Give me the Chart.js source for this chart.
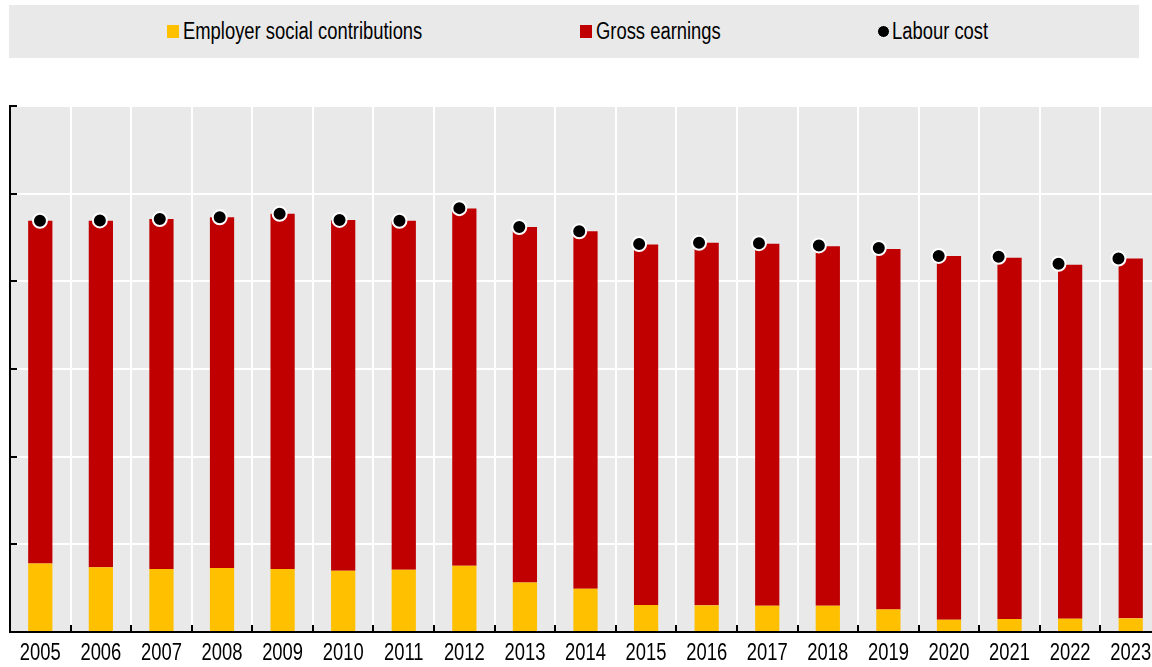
<!doctype html>
<html>
  <head>
    <meta charset="UTF-8">
    <script src="https://cdn.jsdelivr.net/npm/chart.js"></script>
    <style>
      body { margin: 0; width: 1152px; height: 667px; overflow: hidden; background: #fff;
             font-family: 'Liberation Sans', Arial, sans-serif; }
      #legend { position: absolute; left: 9px; top: 5px; width: 1130px; height: 53px; background: #e9e9e9; }
      .item { position: absolute; top: 0; height: 53px; display: flex; align-items: center; color: #000; }
      .txt { font-size: 23px; display: inline-block; transform: scaleX(0.8); transform-origin: left center; white-space: nowrap; }
      .sq { width: 12px; height: 13px; margin-right: 4px; }
      .dot { width: 11px; height: 11px; border-radius: 50%; background: #000; border: 1.5px solid #fff; margin-right: 2px; }
      #wrap { position: absolute; left: 0; top: 0; width: 1170px; height: 667px; }
    </style>
  </head>
  <body>
    <div id="legend">
      <div class="item" style="left:158px"><span class="sq" style="background:#ffc000"></span><span class="txt">Employer social contributions</span></div>
      <div class="item" style="left:571px"><span class="sq" style="background:#c00000"></span><span class="txt">Gross earnings</span></div>
      <div class="item" style="left:868px"><span class="dot"></span><span class="txt">Labour cost</span></div>
    </div>
    <div id="wrap"><canvas id="chart"></canvas></div>
    <script>
      const years = ['2005', '2006', '2007', '2008', '2009', '2010', '2011', '2012', '2013', '2014',
                     '2015', '2016', '2017', '2018', '2019', '2020', '2021', '2022', '2023'];
      const employerContrib = [7.8, 7.4, 7.2, 7.3, 7.2, 7.0, 7.1, 7.55, 5.66, 4.93,
                               3.08, 3.04, 3.0, 3.0, 2.58, 1.4, 1.48, 1.52, 1.56];
      const grossEarnings = [39.1, 39.5, 39.9, 40.0, 40.5, 40.0, 39.8, 40.75, 40.54, 40.77,
                             41.12, 41.36, 41.3, 41.0, 41.12, 41.5, 41.22, 40.38, 41.04];
      const labourCost = [46.9, 46.95, 47.1, 47.3, 47.7, 47.0, 46.9, 48.35, 46.2, 45.7,
                          44.25, 44.4, 44.35, 44.1, 43.8, 42.9, 42.8, 42.0, 42.6];

      const plotBg = {
        id: 'plotBg',
        beforeDraw(chart) {
          const { ctx, chartArea: a } = chart;
          ctx.save();
          ctx.fillStyle = '#e9e9e9';
          ctx.fillRect(a.left, a.top, a.right - a.left, a.bottom - a.top);
          ctx.restore();
        },
        afterDatasetsDraw(chart) {
          // inward tick marks on both axes
          const { ctx, chartArea: a, scales } = chart;
          ctx.save();
          ctx.strokeStyle = '#000';
          ctx.lineWidth = 2;
          ctx.beginPath();
          scales.y.ticks.forEach((t, i) => {
            const y = Math.round(scales.y.getPixelForTick(i));
            ctx.moveTo(a.left, y);
            ctx.lineTo(a.left + 7, y);
          });
          for (let i = 1; i < years.length; i++) {
            const x = Math.round((scales.x.getPixelForValue(i - 1) + scales.x.getPixelForValue(i)) / 2);
            ctx.moveTo(x, a.bottom);
            ctx.lineTo(x, a.bottom - 7);
          }
          ctx.stroke();
          // narrow year labels
          ctx.fillStyle = '#000';
          ctx.font = "23px 'Liberation Sans', Arial, sans-serif";
          ctx.textAlign = 'center';
          ctx.textBaseline = 'middle';
          years.forEach((lab, i) => {
            ctx.save();
            ctx.translate(scales.x.getPixelForValue(i), a.bottom + 22);
            ctx.scale(0.8, 1);
            ctx.fillText(lab, 0, 0);
            ctx.restore();
          });
          ctx.restore();
        }
      };

      new Chart(document.getElementById('chart'), {
        type: 'bar',
        data: {
          labels: years,
          datasets: [
            {
              type: 'line',
              label: 'Labour cost',
              data: labourCost.map((v, i) => ({ x: i, y: v })),
              xAxisID: 'x2',
              stack: 'cost',
              showLine: false,
              pointRadius: 7,
              pointBackgroundColor: '#000',
              pointBorderColor: '#fff',
              pointBorderWidth: 2,
              order: 0
            },
            {
              label: 'Employer social contributions',
              data: employerContrib,
              backgroundColor: '#ffc000',
              stack: 'bars',
              grouped: false,
              order: 1
            },
            {
              label: 'Gross earnings',
              data: grossEarnings,
              backgroundColor: '#c00000',
              stack: 'bars',
              grouped: false,
              order: 1
            }
          ]
        },
        options: {
          responsive: true,
          maintainAspectRatio: false,
          animation: false,
          datasets: { bar: { categoryPercentage: 1, barPercentage: 0.4 } },
          layout: { padding: { top: 106, left: 10, right: 1, bottom: 35 } },
          plugins: { legend: { display: false }, tooltip: { enabled: false } },
          scales: {
            x: {
              stacked: true,
              offset: true,
              grid: { color: '#fff', lineWidth: 2, drawTicks: false, offset: true },
              border: { color: '#000', width: 2 },
              ticks: { display: false }
            },
            x2: {
              type: 'linear',
              display: false,
              offset: false,
              bounds: 'ticks',
              min: -0.5,
              max: 18.71
            },
            y: {
              stacked: true,
              min: 0,
              max: 60,
              ticks: { display: false, stepSize: 10 },
              grid: { color: '#fff', lineWidth: 2, drawTicks: false },
              border: { color: '#000', width: 2 }
            }
          }
        },
        plugins: [plotBg]
      });
    </script>
  </body>
</html>
